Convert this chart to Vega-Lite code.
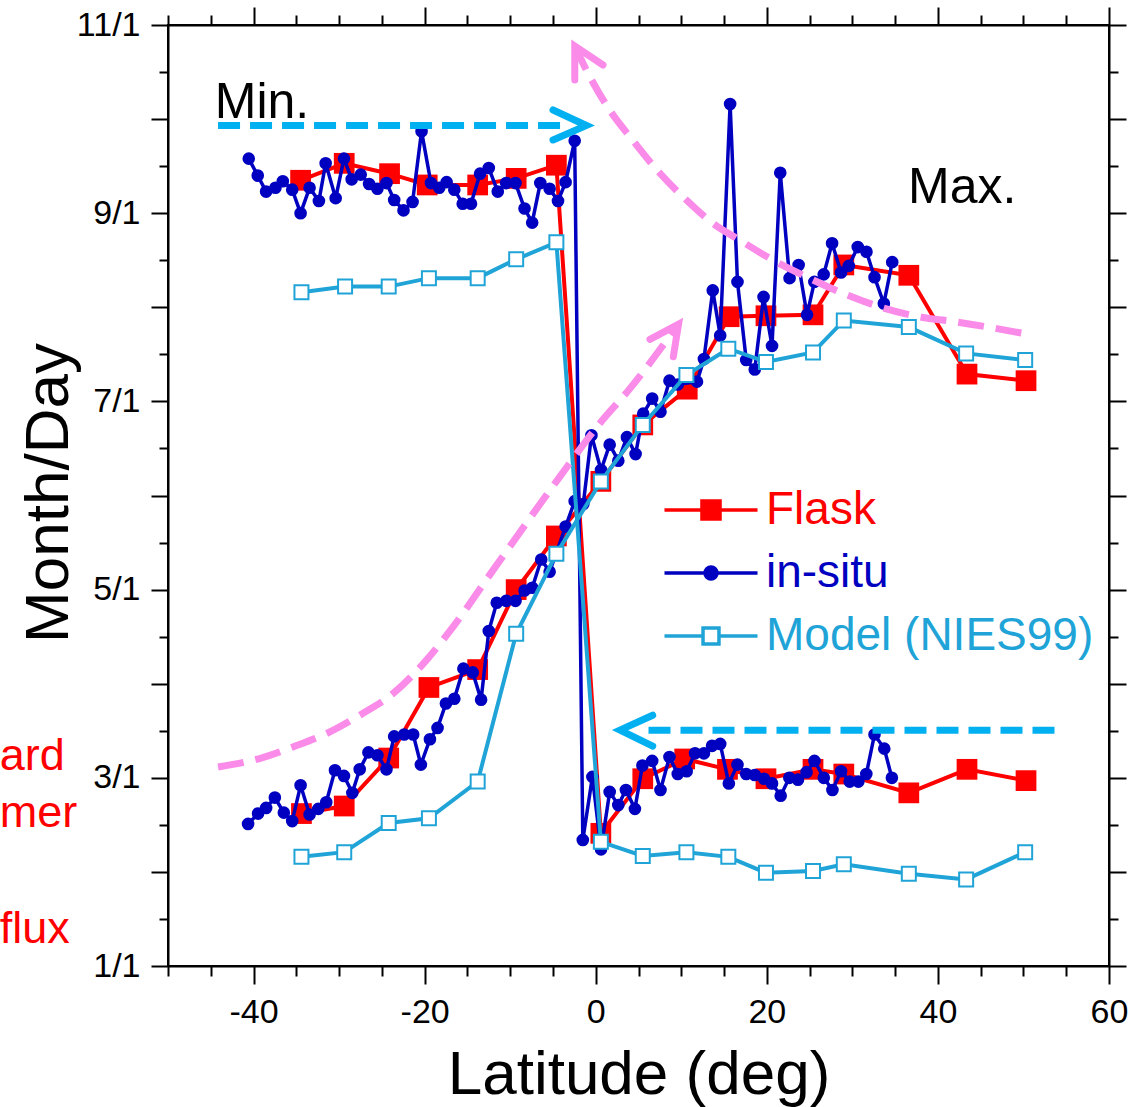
{
  "$schema": "https://vega.github.io/schema/vega-lite/v6.json",
  "autosize": "none",
  "width": 941,
  "height": 941,
  "padding": {"left": 168, "top": 25, "right": 23, "bottom": 141},
  "background": "white",
  "config": {
    "view": {"stroke": "black", "strokeWidth": 2},
    "font": "Liberation Sans"
  },
  "datasets": {
    "obs": [
      {"series": "Flask", "branch": "A", "lat": -34.5, "m": 9.35},
      {"series": "Flask", "branch": "A", "lat": -29.4, "m": 9.53},
      {"series": "Flask", "branch": "A", "lat": -24.1, "m": 9.42},
      {"series": "Flask", "branch": "A", "lat": -19.7, "m": 9.30},
      {"series": "Flask", "branch": "A", "lat": -13.8, "m": 9.30},
      {"series": "Flask", "branch": "A", "lat": -9.3, "m": 9.37},
      {"series": "Flask", "branch": "A", "lat": -4.6, "m": 9.51},
      {"series": "Flask", "branch": "A", "lat": 0.6, "m": 2.41},
      {"series": "Flask", "branch": "A", "lat": 5.5, "m": 2.99},
      {"series": "Flask", "branch": "A", "lat": 10.4, "m": 3.20},
      {"series": "Flask", "branch": "A", "lat": 15.4, "m": 3.09},
      {"series": "Flask", "branch": "A", "lat": 19.9, "m": 2.99},
      {"series": "Flask", "branch": "A", "lat": 25.4, "m": 3.09},
      {"series": "Flask", "branch": "A", "lat": 29.0, "m": 3.04},
      {"series": "Flask", "branch": "A", "lat": 36.6, "m": 2.84},
      {"series": "Flask", "branch": "A", "lat": 43.4, "m": 3.09},
      {"series": "Flask", "branch": "A", "lat": 50.3, "m": 2.97},
      {"series": "Flask", "branch": "B", "lat": -34.4, "m": 2.62},
      {"series": "Flask", "branch": "B", "lat": -29.4, "m": 2.70},
      {"series": "Flask", "branch": "B", "lat": -24.2, "m": 3.21},
      {"series": "Flask", "branch": "B", "lat": -19.5, "m": 3.96},
      {"series": "Flask", "branch": "B", "lat": -13.8, "m": 4.15},
      {"series": "Flask", "branch": "B", "lat": -9.3, "m": 5.00},
      {"series": "Flask", "branch": "B", "lat": -4.6, "m": 5.57},
      {"series": "Flask", "branch": "B", "lat": 0.6, "m": 6.15},
      {"series": "Flask", "branch": "B", "lat": 5.5, "m": 6.75},
      {"series": "Flask", "branch": "B", "lat": 10.7, "m": 7.13},
      {"series": "Flask", "branch": "B", "lat": 15.6, "m": 7.90},
      {"series": "Flask", "branch": "B", "lat": 19.9, "m": 7.91},
      {"series": "Flask", "branch": "B", "lat": 25.4, "m": 7.92},
      {"series": "Flask", "branch": "B", "lat": 29.0, "m": 8.45},
      {"series": "Flask", "branch": "B", "lat": 36.6, "m": 8.34},
      {"series": "Flask", "branch": "B", "lat": 43.4, "m": 7.29},
      {"series": "Flask", "branch": "B", "lat": 50.3, "m": 7.22},
      {"series": "in-situ", "branch": "A", "lat": -40.56, "m": 9.58},
      {"series": "in-situ", "branch": "A", "lat": -39.51, "m": 9.40},
      {"series": "in-situ", "branch": "A", "lat": -38.53, "m": 9.23},
      {"series": "in-situ", "branch": "A", "lat": -37.44, "m": 9.27},
      {"series": "in-situ", "branch": "A", "lat": -36.58, "m": 9.34},
      {"series": "in-situ", "branch": "A", "lat": -35.48, "m": 9.25},
      {"series": "in-situ", "branch": "A", "lat": -34.50, "m": 9.00},
      {"series": "in-situ", "branch": "A", "lat": -33.45, "m": 9.27},
      {"series": "in-situ", "branch": "A", "lat": -32.36, "m": 9.13},
      {"series": "in-situ", "branch": "A", "lat": -31.57, "m": 9.53},
      {"series": "in-situ", "branch": "A", "lat": -30.40, "m": 9.16},
      {"series": "in-situ", "branch": "A", "lat": -29.43, "m": 9.58},
      {"series": "in-situ", "branch": "A", "lat": -28.53, "m": 9.36},
      {"series": "in-situ", "branch": "A", "lat": -27.47, "m": 9.41},
      {"series": "in-situ", "branch": "A", "lat": -26.49, "m": 9.31},
      {"series": "in-situ", "branch": "A", "lat": -25.52, "m": 9.26},
      {"series": "in-situ", "branch": "A", "lat": -24.46, "m": 9.32},
      {"series": "in-situ", "branch": "A", "lat": -23.56, "m": 9.14},
      {"series": "in-situ", "branch": "A", "lat": -22.47, "m": 9.03},
      {"series": "in-situ", "branch": "A", "lat": -21.41, "m": 9.12},
      {"series": "in-situ", "branch": "A", "lat": -20.36, "m": 9.87},
      {"series": "in-situ", "branch": "A", "lat": -19.26, "m": 9.32},
      {"series": "in-situ", "branch": "A", "lat": -18.29, "m": 9.27},
      {"series": "in-situ", "branch": "A", "lat": -17.43, "m": 9.33},
      {"series": "in-situ", "branch": "A", "lat": -16.53, "m": 9.25},
      {"series": "in-situ", "branch": "A", "lat": -15.55, "m": 9.10},
      {"series": "in-situ", "branch": "A", "lat": -14.58, "m": 9.10},
      {"series": "in-situ", "branch": "A", "lat": -13.52, "m": 9.42},
      {"series": "in-situ", "branch": "A", "lat": -12.50, "m": 9.48},
      {"series": "in-situ", "branch": "A", "lat": -11.45, "m": 9.23},
      {"series": "in-situ", "branch": "A", "lat": -10.47, "m": 9.32},
      {"series": "in-situ", "branch": "A", "lat": -9.38, "m": 9.32},
      {"series": "in-situ", "branch": "A", "lat": -8.32, "m": 9.05},
      {"series": "in-situ", "branch": "A", "lat": -7.43, "m": 8.90},
      {"series": "in-situ", "branch": "A", "lat": -6.48, "m": 9.32},
      {"series": "in-situ", "branch": "A", "lat": -5.39, "m": 9.26},
      {"series": "in-situ", "branch": "A", "lat": -4.41, "m": 9.13},
      {"series": "in-situ", "branch": "A", "lat": -3.52, "m": 9.33},
      {"series": "in-situ", "branch": "A", "lat": -2.46, "m": 9.77},
      {"series": "in-situ", "branch": "A", "lat": -1.51, "m": 2.34},
      {"series": "in-situ", "branch": "A", "lat": -0.39, "m": 3.01},
      {"series": "in-situ", "branch": "A", "lat": 0.62, "m": 2.24},
      {"series": "in-situ", "branch": "A", "lat": 1.63, "m": 2.85},
      {"series": "in-situ", "branch": "A", "lat": 2.64, "m": 2.71},
      {"series": "in-situ", "branch": "A", "lat": 3.53, "m": 2.87},
      {"series": "in-situ", "branch": "A", "lat": 4.58, "m": 2.67},
      {"series": "in-situ", "branch": "A", "lat": 5.46, "m": 3.13},
      {"series": "in-situ", "branch": "A", "lat": 6.60, "m": 3.18},
      {"series": "in-situ", "branch": "A", "lat": 7.57, "m": 2.87},
      {"series": "in-situ", "branch": "A", "lat": 8.62, "m": 3.22},
      {"series": "in-situ", "branch": "A", "lat": 9.59, "m": 3.04},
      {"series": "in-situ", "branch": "A", "lat": 10.63, "m": 3.07},
      {"series": "in-situ", "branch": "A", "lat": 11.61, "m": 3.26},
      {"series": "in-situ", "branch": "A", "lat": 12.65, "m": 3.26},
      {"series": "in-situ", "branch": "A", "lat": 13.60, "m": 3.34},
      {"series": "in-situ", "branch": "A", "lat": 14.55, "m": 3.36},
      {"series": "in-situ", "branch": "A", "lat": 15.56, "m": 2.94},
      {"series": "in-situ", "branch": "A", "lat": 16.57, "m": 3.14},
      {"series": "in-situ", "branch": "A", "lat": 17.59, "m": 3.04},
      {"series": "in-situ", "branch": "A", "lat": 18.59, "m": 3.03},
      {"series": "in-situ", "branch": "A", "lat": 19.68, "m": 2.99},
      {"series": "in-situ", "branch": "A", "lat": 20.61, "m": 2.94},
      {"series": "in-situ", "branch": "A", "lat": 21.62, "m": 2.81},
      {"series": "in-situ", "branch": "A", "lat": 22.63, "m": 3.00},
      {"series": "in-situ", "branch": "A", "lat": 23.64, "m": 2.98},
      {"series": "in-situ", "branch": "A", "lat": 24.64, "m": 3.06},
      {"series": "in-situ", "branch": "A", "lat": 25.57, "m": 3.18},
      {"series": "in-situ", "branch": "A", "lat": 26.66, "m": 3.00},
      {"series": "in-situ", "branch": "A", "lat": 27.67, "m": 2.87},
      {"series": "in-situ", "branch": "A", "lat": 28.68, "m": 3.07},
      {"series": "in-situ", "branch": "A", "lat": 29.69, "m": 2.96},
      {"series": "in-situ", "branch": "A", "lat": 30.70, "m": 2.96},
      {"series": "in-situ", "branch": "A", "lat": 31.63, "m": 3.04},
      {"series": "in-situ", "branch": "A", "lat": 32.59, "m": 3.46},
      {"series": "in-situ", "branch": "A", "lat": 33.73, "m": 3.31},
      {"series": "in-situ", "branch": "A", "lat": 34.62, "m": 3.00},
      {"series": "in-situ", "branch": "B", "lat": -40.64, "m": 2.51},
      {"series": "in-situ", "branch": "B", "lat": -39.47, "m": 2.62},
      {"series": "in-situ", "branch": "B", "lat": -38.53, "m": 2.68},
      {"series": "in-situ", "branch": "B", "lat": -37.51, "m": 2.79},
      {"series": "in-situ", "branch": "B", "lat": -36.46, "m": 2.63},
      {"series": "in-situ", "branch": "B", "lat": -35.48, "m": 2.54},
      {"series": "in-situ", "branch": "B", "lat": -34.50, "m": 2.92},
      {"series": "in-situ", "branch": "B", "lat": -33.45, "m": 2.61},
      {"series": "in-situ", "branch": "B", "lat": -32.43, "m": 2.67},
      {"series": "in-situ", "branch": "B", "lat": -31.50, "m": 2.74},
      {"series": "in-situ", "branch": "B", "lat": -30.48, "m": 3.08},
      {"series": "in-situ", "branch": "B", "lat": -29.43, "m": 3.02},
      {"series": "in-situ", "branch": "B", "lat": -28.45, "m": 2.84},
      {"series": "in-situ", "branch": "B", "lat": -27.59, "m": 3.09},
      {"series": "in-situ", "branch": "B", "lat": -26.57, "m": 3.27},
      {"series": "in-situ", "branch": "B", "lat": -25.52, "m": 3.24},
      {"series": "in-situ", "branch": "B", "lat": -24.46, "m": 3.09},
      {"series": "in-situ", "branch": "B", "lat": -23.56, "m": 3.44},
      {"series": "in-situ", "branch": "B", "lat": -22.39, "m": 3.46},
      {"series": "in-situ", "branch": "B", "lat": -21.34, "m": 3.46},
      {"series": "in-situ", "branch": "B", "lat": -20.44, "m": 3.14},
      {"series": "in-situ", "branch": "B", "lat": -19.38, "m": 3.41},
      {"series": "in-situ", "branch": "B", "lat": -18.49, "m": 3.53},
      {"series": "in-situ", "branch": "B", "lat": -17.51, "m": 3.79},
      {"series": "in-situ", "branch": "B", "lat": -16.53, "m": 3.84},
      {"series": "in-situ", "branch": "B", "lat": -15.47, "m": 4.16},
      {"series": "in-situ", "branch": "B", "lat": -14.38, "m": 4.12},
      {"series": "in-situ", "branch": "B", "lat": -13.40, "m": 3.83},
      {"series": "in-situ", "branch": "B", "lat": -12.50, "m": 4.56},
      {"series": "in-situ", "branch": "B", "lat": -11.57, "m": 4.86},
      {"series": "in-situ", "branch": "B", "lat": -10.47, "m": 4.88},
      {"series": "in-situ", "branch": "B", "lat": -9.38, "m": 4.88},
      {"series": "in-situ", "branch": "B", "lat": -8.32, "m": 4.99},
      {"series": "in-situ", "branch": "B", "lat": -7.42, "m": 5.02},
      {"series": "in-situ", "branch": "B", "lat": -6.37, "m": 5.32},
      {"series": "in-situ", "branch": "B", "lat": -5.39, "m": 5.19},
      {"series": "in-situ", "branch": "B", "lat": -3.52, "m": 5.67},
      {"series": "in-situ", "branch": "B", "lat": -2.46, "m": 5.94},
      {"series": "in-situ", "branch": "B", "lat": -1.45, "m": 5.91},
      {"series": "in-situ", "branch": "B", "lat": -0.50, "m": 6.64},
      {"series": "in-situ", "branch": "B", "lat": 0.62, "m": 6.27},
      {"series": "in-situ", "branch": "B", "lat": 1.63, "m": 6.54},
      {"series": "in-situ", "branch": "B", "lat": 2.64, "m": 6.37},
      {"series": "in-situ", "branch": "B", "lat": 3.65, "m": 6.62},
      {"series": "in-situ", "branch": "B", "lat": 4.66, "m": 6.44},
      {"series": "in-situ", "branch": "B", "lat": 5.55, "m": 6.87},
      {"series": "in-situ", "branch": "B", "lat": 6.60, "m": 7.03},
      {"series": "in-situ", "branch": "B", "lat": 7.57, "m": 6.89},
      {"series": "in-situ", "branch": "B", "lat": 8.62, "m": 7.22},
      {"series": "in-situ", "branch": "B", "lat": 9.59, "m": 7.18},
      {"series": "in-situ", "branch": "B", "lat": 11.84, "m": 7.21},
      {"series": "in-situ", "branch": "B", "lat": 12.65, "m": 7.45},
      {"series": "in-situ", "branch": "B", "lat": 13.68, "m": 8.18},
      {"series": "in-situ", "branch": "B", "lat": 14.55, "m": 7.70},
      {"series": "in-situ", "branch": "B", "lat": 15.71, "m": 10.16},
      {"series": "in-situ", "branch": "B", "lat": 16.57, "m": 8.27},
      {"series": "in-situ", "branch": "B", "lat": 17.59, "m": 7.44},
      {"series": "in-situ", "branch": "B", "lat": 18.59, "m": 7.34},
      {"series": "in-situ", "branch": "B", "lat": 19.62, "m": 8.11},
      {"series": "in-situ", "branch": "B", "lat": 20.61, "m": 7.59},
      {"series": "in-situ", "branch": "B", "lat": 21.57, "m": 9.43},
      {"series": "in-situ", "branch": "B", "lat": 22.66, "m": 8.31},
      {"series": "in-situ", "branch": "B", "lat": 23.72, "m": 8.45},
      {"series": "in-situ", "branch": "B", "lat": 24.70, "m": 7.92},
      {"series": "in-situ", "branch": "B", "lat": 25.56, "m": 8.27},
      {"series": "in-situ", "branch": "B", "lat": 26.65, "m": 8.35},
      {"series": "in-situ", "branch": "B", "lat": 27.63, "m": 8.68},
      {"series": "in-situ", "branch": "B", "lat": 28.68, "m": 8.37},
      {"series": "in-situ", "branch": "B", "lat": 29.58, "m": 8.44},
      {"series": "in-situ", "branch": "B", "lat": 30.63, "m": 8.64},
      {"series": "in-situ", "branch": "B", "lat": 31.65, "m": 8.59},
      {"series": "in-situ", "branch": "B", "lat": 32.59, "m": 8.32},
      {"series": "in-situ", "branch": "B", "lat": 33.68, "m": 8.04},
      {"series": "in-situ", "branch": "B", "lat": 34.66, "m": 8.48},
      {"series": "Model (NIES99)", "branch": "A", "lat": -34.4, "m": 8.16},
      {"series": "Model (NIES99)", "branch": "A", "lat": -29.3, "m": 8.22},
      {"series": "Model (NIES99)", "branch": "A", "lat": -24.2, "m": 8.22},
      {"series": "Model (NIES99)", "branch": "A", "lat": -19.5, "m": 8.31},
      {"series": "Model (NIES99)", "branch": "A", "lat": -13.8, "m": 8.31},
      {"series": "Model (NIES99)", "branch": "A", "lat": -9.3, "m": 8.51},
      {"series": "Model (NIES99)", "branch": "A", "lat": -4.6, "m": 8.69},
      {"series": "Model (NIES99)", "branch": "A", "lat": 0.6, "m": 2.32},
      {"series": "Model (NIES99)", "branch": "A", "lat": 5.5, "m": 2.17},
      {"series": "Model (NIES99)", "branch": "A", "lat": 10.6, "m": 2.21},
      {"series": "Model (NIES99)", "branch": "A", "lat": 15.5, "m": 2.16},
      {"series": "Model (NIES99)", "branch": "A", "lat": 19.9, "m": 1.99},
      {"series": "Model (NIES99)", "branch": "A", "lat": 25.4, "m": 2.01},
      {"series": "Model (NIES99)", "branch": "A", "lat": 29.0, "m": 2.08},
      {"series": "Model (NIES99)", "branch": "A", "lat": 36.6, "m": 1.98},
      {"series": "Model (NIES99)", "branch": "A", "lat": 43.3, "m": 1.92},
      {"series": "Model (NIES99)", "branch": "A", "lat": 50.2, "m": 2.21},
      {"series": "Model (NIES99)", "branch": "B", "lat": -34.4, "m": 2.16},
      {"series": "Model (NIES99)", "branch": "B", "lat": -29.4, "m": 2.21},
      {"series": "Model (NIES99)", "branch": "B", "lat": -24.2, "m": 2.52},
      {"series": "Model (NIES99)", "branch": "B", "lat": -19.5, "m": 2.57},
      {"series": "Model (NIES99)", "branch": "B", "lat": -13.8, "m": 2.96},
      {"series": "Model (NIES99)", "branch": "B", "lat": -9.3, "m": 4.53},
      {"series": "Model (NIES99)", "branch": "B", "lat": -4.6, "m": 5.38},
      {"series": "Model (NIES99)", "branch": "B", "lat": 0.6, "m": 6.15},
      {"series": "Model (NIES99)", "branch": "B", "lat": 5.5, "m": 6.75},
      {"series": "Model (NIES99)", "branch": "B", "lat": 10.6, "m": 7.28},
      {"series": "Model (NIES99)", "branch": "B", "lat": 15.5, "m": 7.56},
      {"series": "Model (NIES99)", "branch": "B", "lat": 19.9, "m": 7.42},
      {"series": "Model (NIES99)", "branch": "B", "lat": 25.4, "m": 7.52},
      {"series": "Model (NIES99)", "branch": "B", "lat": 29.0, "m": 7.86},
      {"series": "Model (NIES99)", "branch": "B", "lat": 36.6, "m": 7.79},
      {"series": "Model (NIES99)", "branch": "B", "lat": 43.3, "m": 7.51},
      {"series": "Model (NIES99)", "branch": "B", "lat": 50.2, "m": 7.44}
    ],
    "ann": [
      {"id": "p1", "i": 1, "lat": -44.15, "m": 3.115},
      {"id": "p1", "i": 2, "lat": -39.28, "m": 3.205},
      {"id": "p1", "i": 3, "lat": -35.38, "m": 3.328},
      {"id": "p1", "i": 4, "lat": -31.48, "m": 3.470},
      {"id": "p1", "i": 5, "lat": -27.59, "m": 3.665},
      {"id": "p1", "i": 6, "lat": -23.69, "m": 3.896},
      {"id": "p1", "i": 7, "lat": -19.79, "m": 4.250},
      {"id": "p1", "i": 8, "lat": -16.68, "m": 4.604},
      {"id": "p1", "i": 9, "lat": -12.00, "m": 5.207},
      {"id": "p1", "i": 10, "lat": -4.21, "m": 6.198},
      {"id": "p1", "i": 11, "lat": 0.47, "m": 6.766},
      {"id": "p1", "i": 12, "lat": 3.85, "m": 7.120},
      {"id": "p1", "i": 13, "lat": 9.68, "m": 7.822},
      {"id": "p1h", "i": 1, "lat": 6.34, "m": 7.659},
      {"id": "p1h", "i": 2, "lat": 9.68, "m": 7.822},
      {"id": "p1h", "i": 3, "lat": 9.07, "m": 7.474},
      {"id": "p2", "i": 1, "lat": -2.45, "m": 10.777},
      {"id": "p2", "i": 2, "lat": -0.90, "m": 10.487},
      {"id": "p2", "i": 3, "lat": 1.64, "m": 10.094},
      {"id": "p2", "i": 4, "lat": 4.33, "m": 9.775},
      {"id": "p2", "i": 5, "lat": 7.48, "m": 9.427},
      {"id": "p2", "i": 6, "lat": 10.60, "m": 9.140},
      {"id": "p2", "i": 7, "lat": 13.71, "m": 8.892},
      {"id": "p2", "i": 8, "lat": 16.83, "m": 8.714},
      {"id": "p2", "i": 9, "lat": 20.73, "m": 8.501},
      {"id": "p2", "i": 10, "lat": 24.63, "m": 8.324},
      {"id": "p2", "i": 11, "lat": 28.91, "m": 8.148},
      {"id": "p2", "i": 12, "lat": 33.20, "m": 8.005},
      {"id": "p2", "i": 13, "lat": 37.88, "m": 7.899},
      {"id": "p2", "i": 14, "lat": 42.08, "m": 7.846},
      {"id": "p2", "i": 15, "lat": 49.94, "m": 7.723},
      {"id": "p2h", "i": 1, "lat": -2.45, "m": 10.415},
      {"id": "p2h", "i": 2, "lat": -2.45, "m": 10.777},
      {"id": "p2h", "i": 3, "lat": 0.85, "m": 10.575},
      {"id": "b1", "i": 1, "lat": -44.15, "m": 9.932},
      {"id": "b1", "i": 2, "lat": -3.97, "m": 9.932},
      {"id": "b1h", "i": 1, "lat": -4.99, "m": 10.097},
      {"id": "b1h", "i": 2, "lat": -1.09, "m": 9.932},
      {"id": "b1h", "i": 3, "lat": -4.99, "m": 9.778},
      {"id": "b2", "i": 1, "lat": 6.17, "m": 3.506},
      {"id": "b2", "i": 2, "lat": 53.96, "m": 3.506},
      {"id": "b2h", "i": 1, "lat": 6.66, "m": 3.665},
      {"id": "b2h", "i": 2, "lat": 2.84, "m": 3.506},
      {"id": "b2h", "i": 3, "lat": 6.66, "m": 3.336}
    ],
    "txt": [
      {"t": "Min.", "lat": -44.53, "m": 10.008},
      {"t": "Max.", "lat": 36.51, "m": 9.111},
      {"t": "ard", "lat": -69.67, "m": 3.080},
      {"t": "mer", "lat": -69.67, "m": 2.478},
      {"t": "flux", "lat": -69.67, "m": 1.241}
    ]
  },
  "resolve": {"axis": {"x": "independent", "y": "independent"}},
  "layer": [
    {
      "data": {"name": "obs"},
      "transform": [{"filter": "datum.series === 'Flask'"}],
      "mark": {"type": "line", "strokeWidth": 4},
      "encoding": {
        "x": {
          "field": "lat", "type": "quantitative",
          "scale": {"domain": [-50, 60], "nice": false, "zero": false},
          "axis": {
            "orient": "bottom",
            "values": [-50, -45, -40, -35, -30, -25, -20, -15, -10, -5, 0, 5, 10, 15, 20, 25, 30, 35, 40, 45, 50, 55, 60],
            "labelExpr": "datum.value % 20 === 0 ? '' + datum.value : ''",
            "tickSize": {"condition": {"test": "datum.value % 20 === 0", "value": 18}, "value": 10},
            "tickWidth": 2, "tickColor": "black",
            "domainColor": "black", "domainWidth": 2,
            "grid": false, "labelFlush": false, "labelOverlap": false, "labelBound": false,
            "labelFont": "Liberation Sans", "labelFontSize": 34, "labelColor": "black", "labelPadding": 11,
            "title": "Latitude (deg)", "titleFont": "Liberation Sans", "titleFontSize": 62,
            "titleFontWeight": "normal", "titleColor": "black",
            "titleX": 470.5, "titleY": 127, "titleBaseline": "alphabetic", "titleAlign": "center"
          }
        },
        "y": {
          "field": "m", "type": "quantitative",
          "scale": {"domain": [1, 11], "nice": false, "zero": false},
          "axis": {
            "orient": "left",
            "values": [1, 1.5, 2, 2.5, 3, 3.5, 4, 4.5, 5, 5.5, 6, 6.5, 7, 7.5, 8, 8.5, 9, 9.5, 10, 10.5, 11],
            "labelExpr": "datum.value % 2 === 1 ? datum.value + '/1' : ''",
            "tickSize": {"condition": {"test": "datum.value % 1 === 0", "value": 17}, "value": 9},
            "tickWidth": 2, "tickColor": "black",
            "domainColor": "black", "domainWidth": 2,
            "grid": false, "labelFlush": false, "labelOverlap": false, "labelBound": false,
            "labelFont": "Liberation Sans", "labelFontSize": 34, "labelColor": "black", "labelPadding": 11,
            "title": "Month/Day", "titleFont": "Liberation Sans", "titleFontSize": 62,
            "titleFontWeight": "normal", "titleColor": "black",
            "titleAngle": 270, "titleX": -101, "titleY": 467.5, "titleBaseline": "alphabetic", "titleAlign": "center"
          }
        },
        "color": {
          "field": "series", "type": "nominal",
          "scale": {"domain": ["Flask", "in-situ", "Model (NIES99)"], "range": ["#ff0000", "#0000c0", "#20a4d8"]},
          "legend": {
            "orient": "none", "legendX": 520, "legendY": 462, "title": null, "padding": 0,
            "labelFont": "Liberation Sans", "labelFontSize": 46, "labelOffset": 32, "rowPadding": 17,
            "labelLimit": 0,
            "symbolSize": 441, "symbolStrokeWidth": 3.5,
            "encode": {
              "symbols": {"update": {
                "shape": {"signal": "datum.value === 'Flask' ? 'M-4.43,0H-0.86M0.86,0H4.43M-0.86,-0.86H0.86V0.86H-0.86Z' : datum.value === 'in-situ' ? 'M-4.43,0H4.43M-0.57,0A0.57,0.57,0,1,0,0.57,0A0.57,0.57,0,1,0,-0.57,0Z' : 'M-4.43,0H-0.76M0.76,0H4.43M-0.76,-0.76H0.76V0.76H-0.76Z'"},
                "fill": {"signal": "datum.value === 'Model (NIES99)' ? '#ffffff' : scale('color', datum.value)"},
                "stroke": {"signal": "scale('color', datum.value)"},
                "strokeWidth": {"value": 3.5},
                "size": {"value": 441},
                "opacity": {"value": 1}
              }},
              "labels": {"update": {"fill": {"signal": "scale('color', datum.value)"}}}
            }
          }
        },
        "detail": {"field": "branch"}
      }
    },
    {
      "data": {"name": "obs"},
      "transform": [{"filter": "datum.series === 'Flask'"}],
      "mark": {"type": "point", "shape": "square", "filled": true, "fill": "#ff0000", "size": 430, "strokeWidth": 0, "opacity": 1},
      "encoding": {
        "x": {
          "field": "lat", "type": "quantitative",
          "axis": {
            "orient": "top",
            "values": [-50, -45, -40, -35, -30, -25, -20, -15, -10, -5, 0, 5, 10, 15, 20, 25, 30, 35, 40, 45, 50, 55, 60],
            "labels": false, "title": null, "grid": false,
            "tickSize": {"condition": {"test": "datum.value % 20 === 0", "value": 18}, "value": 10},
            "tickWidth": 2, "tickColor": "black", "domainColor": "black", "domainWidth": 2
          }
        },
        "y": {
          "field": "m", "type": "quantitative",
          "axis": {
            "orient": "right",
            "values": [1, 1.5, 2, 2.5, 3, 3.5, 4, 4.5, 5, 5.5, 6, 6.5, 7, 7.5, 8, 8.5, 9, 9.5, 10, 10.5, 11],
            "labels": false, "title": null, "grid": false,
            "tickSize": {"condition": {"test": "datum.value % 1 === 0", "value": 17}, "value": 9},
            "tickWidth": 2, "tickColor": "black", "domainColor": "black", "domainWidth": 2
          }
        }
      }
    },
    {
      "data": {"name": "obs"},
      "transform": [{"filter": "datum.series === 'in-situ'"}],
      "mark": {"type": "line", "strokeWidth": 3.5},
      "encoding": {
        "x": {"field": "lat", "type": "quantitative", "axis": null},
        "y": {"field": "m", "type": "quantitative", "axis": null},
        "color": {"field": "series", "type": "nominal"},
        "detail": {"field": "branch"}
      }
    },
    {
      "data": {"name": "obs"},
      "transform": [{"filter": "datum.series === 'in-situ'"}],
      "mark": {"type": "point", "shape": "circle", "filled": true, "fill": "#0000c0", "size": 160, "strokeWidth": 0, "opacity": 1},
      "encoding": {
        "x": {"field": "lat", "type": "quantitative", "axis": null},
        "y": {"field": "m", "type": "quantitative", "axis": null}
      }
    },
    {
      "data": {"name": "obs"},
      "transform": [{"filter": "datum.series === 'Model (NIES99)'"}],
      "mark": {"type": "line", "strokeWidth": 4},
      "encoding": {
        "x": {"field": "lat", "type": "quantitative", "axis": null},
        "y": {"field": "m", "type": "quantitative", "axis": null},
        "color": {"field": "series", "type": "nominal"},
        "detail": {"field": "branch"}
      }
    },
    {
      "data": {"name": "obs"},
      "transform": [{"filter": "datum.series === 'Model (NIES99)'"}],
      "mark": {"type": "point", "shape": "square", "filled": true, "fill": "#ffffff", "stroke": "#20a4d8", "strokeWidth": 2, "size": 196, "opacity": 1},
      "encoding": {
        "x": {"field": "lat", "type": "quantitative", "axis": null},
        "y": {"field": "m", "type": "quantitative", "axis": null}
      }
    },
    {
      "data": {"name": "ann"},
      "transform": [{"filter": "datum.id === 'p1' || datum.id === 'p2'"}],
      "mark": {"type": "line", "color": "#fa8be8", "strokeWidth": 7, "strokeDash": [26, 12], "interpolate": "monotone", "strokeCap": "butt"},
      "encoding": {
        "x": {"field": "lat", "type": "quantitative", "axis": null},
        "y": {"field": "m", "type": "quantitative", "axis": null},
        "detail": {"field": "id"},
        "order": {"field": "i"}
      }
    },
    {
      "data": {"name": "ann"},
      "transform": [{"filter": "datum.id === 'p1h' || datum.id === 'p2h'"}],
      "mark": {"type": "line", "color": "#fa8be8", "strokeWidth": 7, "strokeCap": "round", "strokeJoin": "miter"},
      "encoding": {
        "x": {"field": "lat", "type": "quantitative", "axis": null},
        "y": {"field": "m", "type": "quantitative", "axis": null},
        "detail": {"field": "id"},
        "order": {"field": "i"}
      }
    },
    {
      "data": {"name": "ann"},
      "transform": [{"filter": "datum.id === 'b1' || datum.id === 'b2'"}],
      "mark": {"type": "line", "color": "#00b0f0", "strokeWidth": 7, "strokeDash": [22, 10], "strokeCap": "butt"},
      "encoding": {
        "x": {"field": "lat", "type": "quantitative", "axis": null},
        "y": {"field": "m", "type": "quantitative", "axis": null},
        "detail": {"field": "id"},
        "order": {"field": "i"}
      }
    },
    {
      "data": {"name": "ann"},
      "transform": [{"filter": "datum.id === 'b1h' || datum.id === 'b2h'"}],
      "mark": {"type": "line", "color": "#00b0f0", "strokeWidth": 7, "strokeCap": "round", "strokeJoin": "miter"},
      "encoding": {
        "x": {"field": "lat", "type": "quantitative", "axis": null},
        "y": {"field": "m", "type": "quantitative", "axis": null},
        "detail": {"field": "id"},
        "order": {"field": "i"}
      }
    },
    {
      "data": {"name": "txt"},
      "transform": [{"filter": "datum.t === 'Min.' || datum.t === 'Max.'"}],
      "mark": {"type": "text", "font": "Liberation Sans", "fontSize": 50, "color": "black", "align": "left", "baseline": "alphabetic"},
      "encoding": {
        "x": {"field": "lat", "type": "quantitative", "axis": null},
        "y": {"field": "m", "type": "quantitative", "axis": null},
        "text": {"field": "t"}
      }
    },
    {
      "data": {"name": "txt"},
      "transform": [{"filter": "datum.t !== 'Min.' && datum.t !== 'Max.'"}],
      "mark": {"type": "text", "font": "Liberation Sans", "fontSize": 45, "color": "#ff0000", "align": "left", "baseline": "alphabetic"},
      "encoding": {
        "x": {"field": "lat", "type": "quantitative", "axis": null},
        "y": {"field": "m", "type": "quantitative", "axis": null},
        "text": {"field": "t"}
      }
    }
  ]
}
